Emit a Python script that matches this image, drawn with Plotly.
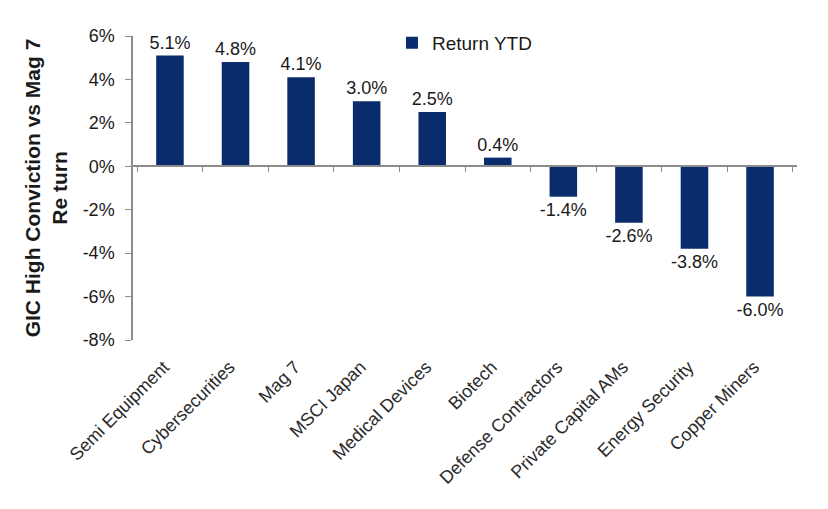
import plotly.graph_objects as go

categories = ["Semi Equipment", "Cybersecurities", "Mag 7", "MSCI Japan", "Medical Devices",
              "Biotech", "Defense Contractors", "Private Capital AMs", "Energy Security", "Copper Miners"]
returns_ytd = [5.1, 4.8, 4.1, 3.0, 2.5, 0.4, -1.4, -2.6, -3.8, -6.0]
y_ticks = [6, 4, 2, 0, -2, -4, -6, -8]
y_tick_labels = [f"{t}%" for t in y_ticks]
series_name = "Return YTD"
y_title = "<b>GIC High Conviction vs Mag 7</b><br><b>Re turn</b>"

BAR = "#0B2C6C"
TXT = "#1a1a1a"
AX = "#8c8c8c"
FONT = "Liberation Sans, Arial, sans-serif"

y_min, y_max = -8, 6

fig = go.Figure()
fig.add_trace(go.Bar(
    x=categories, y=returns_ytd, name=series_name,
    marker=dict(color=BAR, line=dict(width=0)),
    width=0.42,
    text=[f"{v:.1f}%" for v in returns_ytd],
    textposition="outside",
    constraintext="none",
    textfont=dict(size=18, color=TXT, family=FONT),
    cliponaxis=False,
))
# invisible helper trace so the zero-line category axis renders
fig.add_trace(go.Scatter(
    x=categories, y=[None] * len(categories), xaxis="x2", mode="markers",
    showlegend=False, hoverinfo="skip",
))

fig.update_layout(
    width=828, height=509,
    margin=dict(l=125, r=39, t=28, b=177, autoexpand=False),
    paper_bgcolor="white", plot_bgcolor="white",
    font=dict(family=FONT, size=16, color=TXT),
    showlegend=True,
    legend=dict(x=0.39, y=1.04, xanchor="left", yanchor="top",
                font=dict(size=19, color=TXT), bgcolor="rgba(0,0,0,0)",
                itemwidth=30),
    xaxis=dict(
        type="category", showline=False, ticks="", showgrid=False,
        tickangle=-45, tickfont=dict(size=18, color="#2a2a2a"), zeroline=False,
        ticklabelstandoff=12, ticklabelshift=-6,
    ),
    xaxis2=dict(
        type="category", overlaying="x", matches="x", anchor="free",
        position=(0 - y_min) / (y_max - y_min),
        showline=True, linecolor=AX, linewidth=1.5,
        ticks="outside", ticklen=5, tickcolor=AX, tickson="boundaries",
        showticklabels=False, showgrid=False, zeroline=False,
    ),
    yaxis=dict(
        range=[y_min, y_max], tickvals=y_ticks, ticktext=y_tick_labels,
        showline=True, linecolor=AX, linewidth=1.5,
        ticks="outside", ticklen=6, tickcolor=AX, ticklabelstandoff=7,
        showgrid=False, zeroline=False,
        tickfont=dict(size=18, color=TXT),
        title=dict(text=y_title, font=dict(size=21, color=TXT), standoff=9),
    ),
    bargap=0.58,
)

fig.write_html("out.html")
